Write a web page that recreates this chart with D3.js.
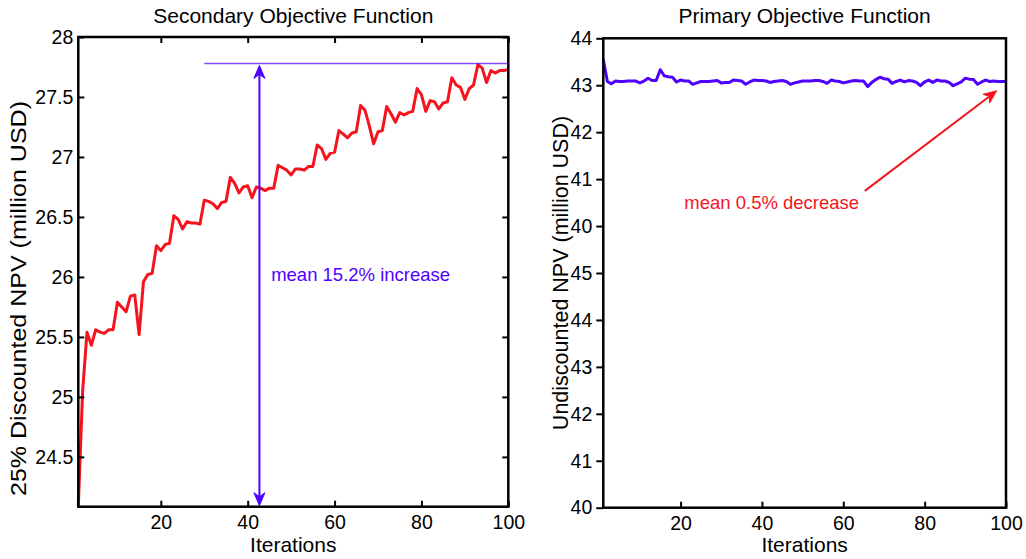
<!DOCTYPE html>
<html>
<head>
<meta charset="utf-8">
<script src="https://cdn.jsdelivr.net/npm/d3@7"></script>
<style>
  html, body { margin: 0; padding: 0; background: #fff; }
  svg { display: block; }
  text { font-family: "Liberation Sans", Arial, sans-serif; fill: #000; }
</style>
</head>
<body>
<svg id="chart" width="1026" height="559"></svg>
<script>
// ---------- DATA ----------
const secondaryNPV = [
  24.09, 25.05, 25.54, 25.43, 25.56, 25.54, 25.53, 25.56, 25.56, 25.79,
  25.75, 25.71, 25.84, 25.85, 25.52, 25.96, 26.02, 26.03, 26.26, 26.22,
  26.27, 26.28, 26.51, 26.48, 26.40, 26.46, 26.45, 26.45, 26.44, 26.64,
  26.63, 26.61, 26.57, 26.62, 26.63, 26.83, 26.78, 26.70, 26.75, 26.76,
  26.66, 26.75, 26.74, 26.72, 26.74, 26.74, 26.93, 26.91, 26.89, 26.85,
  26.90, 26.90, 26.89, 26.92, 26.92, 27.10, 27.07, 26.98, 27.03, 27.04,
  27.22, 27.19, 27.16, 27.20, 27.21, 27.43, 27.39, 27.26, 27.11, 27.21,
  27.22, 27.42, 27.36, 27.29, 27.37, 27.35, 27.37, 27.38, 27.57, 27.52,
  27.38, 27.47, 27.46, 27.40, 27.45, 27.46, 27.66, 27.60, 27.58, 27.48,
  27.57, 27.60, 27.77, 27.74, 27.62, 27.72, 27.70, 27.72, 27.72, 27.73
];
const primaryNPV = [
  43.55, 43.08, 43.03, 43.09, 43.08, 43.08, 43.09, 43.09, 43.09, 43.05,
  43.09, 43.15, 43.10, 43.10, 43.33, 43.20, 43.18, 43.17, 43.07, 43.11,
  43.09, 43.09, 43.02, 43.05, 43.08, 43.08, 43.08, 43.09, 43.10, 43.05,
  43.06, 43.06, 43.11, 43.10, 43.09, 43.02, 43.07, 43.11, 43.10, 43.10,
  43.09, 43.06, 43.08, 43.09, 43.10, 43.08, 43.02, 43.05, 43.07, 43.09,
  43.09, 43.09, 43.10, 43.10, 43.08, 43.04, 43.11, 43.09, 43.08, 43.05,
  43.07, 43.09, 43.10, 43.09, 43.09, 42.97, 43.06, 43.12, 43.17, 43.14,
  43.13, 43.04, 43.08, 43.11, 43.07, 43.10, 43.09, 43.06, 42.99, 43.07,
  43.11, 43.06, 43.11, 43.09, 43.09, 43.06, 42.99, 43.03, 43.07, 43.15,
  43.13, 43.12, 43.02, 43.07, 43.11, 43.08, 43.09, 43.08, 43.08, 43.08
];
const xTickValues = [20, 40, 60, 80, 100];
const leftYTickValues = [24.5, 25, 25.5, 26, 26.5, 27, 27.5, 28];
const rightYTickValues = [34, 35, 36, 37, 38, 39, 40, 41, 42, 43, 44];
const rightYTickLabels = ["40", "41", "42", "43", "44", "45", "40", "41", "42", "43", "44"];
const titles = ["Secondary Objective Function", "Primary Objective Function"];
const yLabels = ["25% Discounted NPV (million USD)", "Undiscounted NPV (million USD)"];
const xLabel = "Iterations";
// annotations (data coordinates)
const leftRefLine = { x0: 30, x1: 100, y: 27.78 };
const leftArrow = { x: 42.7, y0: 27.78, y1: 24.085 };
const leftNote = { x: 45.4, y: 25.97, text: "mean 15.2% increase" };
const rightArrow = { x0: 65.3, y0: 40.75, x1: 97.7, y1: 42.88 };
const rightNote = { x: 63.9, y: 40.36, text: "mean 0.5% decrease" };

// ---------- STYLE ----------
const RED = "#f5141e";
const BLUE = "#5000ff";
const svg = d3.select("#chart");

function arrowHead(g, tipX, tipY, angle, color) {
  const L = 13, W = 5.5, notch = 4;
  const pts = [[0, 0], [-L, -W], [-L + notch, 0], [-L, W]];
  const c = Math.cos(angle), s = Math.sin(angle);
  const p = pts.map(([x, y]) => [tipX + x * c - y * s, tipY + x * s + y * c]);
  g.append("path")
    .attr("d", "M" + p.map(d => d.join(",")).join("L") + "Z")
    .attr("fill", color).attr("stroke", color).attr("stroke-width", 1);
}

function styleAxis(a) {
  a.select(".domain").remove();
  a.selectAll(".tick line").attr("stroke", "#000").attr("stroke-width", 2);
  a.selectAll("text").attr("font-size", 19.5).attr("fill", "#000")
    .attr("font-family", '"Liberation Sans", Arial, sans-serif');
}

// ---------- LEFT PANEL ----------
{
  const x = d3.scaleLinear().domain([1, 100]).range([78.3, 508.3]);
  const y = d3.scaleLinear().domain([24.085, 28]).range([506.7, 37]);
  const g = svg.append("g");

  g.append("path")
    .datum(secondaryNPV)
    .attr("fill", "none").attr("stroke", RED).attr("stroke-width", 3)
    .attr("stroke-linejoin", "round")
    .attr("d", d3.line().x((d, i) => x(i + 1)).y(d => y(d)));

  const bottom = g.append("g").attr("transform", `translate(0,${y.range()[0]})`)
    .call(d3.axisBottom(x).tickValues(xTickValues).tickSize(-6).tickPadding(8).tickFormat(d3.format("d")));
  const top = g.append("g").attr("transform", `translate(0,${y.range()[1]})`)
    .call(d3.axisTop(x).tickValues(xTickValues).tickSize(-6).tickFormat(""));
  const left = g.append("g").attr("transform", `translate(${x.range()[0]},0)`)
    .call(d3.axisLeft(y).tickValues(leftYTickValues).tickSize(-6).tickPadding(5).tickFormat(d => d3.format("")(d)));
  const right = g.append("g").attr("transform", `translate(${x.range()[1]},0)`)
    .call(d3.axisRight(y).tickValues(leftYTickValues).tickSize(-6).tickFormat(""));
  [bottom, top, left, right].forEach(styleAxis);
  g.append("rect")
    .attr("x", x.range()[0]).attr("y", y.range()[1])
    .attr("width", x.range()[1] - x.range()[0]).attr("height", y.range()[0] - y.range()[1])
    .attr("fill", "none").attr("stroke", "#000").attr("stroke-width", 2.5);

  g.append("line")
    .attr("x1", x(leftRefLine.x0)).attr("x2", x(leftRefLine.x1))
    .attr("y1", y(leftRefLine.y)).attr("y2", y(leftRefLine.y))
    .attr("stroke", BLUE).attr("stroke-opacity", 0.7).attr("stroke-width", 1.5);
  g.append("line")
    .attr("x1", x(leftArrow.x)).attr("x2", x(leftArrow.x))
    .attr("y1", y(leftArrow.y0) + 8).attr("y2", y(leftArrow.y1) - 8)
    .attr("stroke", BLUE).attr("stroke-width", 2);
  arrowHead(g, x(leftArrow.x), y(leftArrow.y0) + 2, -Math.PI / 2, BLUE);
  arrowHead(g, x(leftArrow.x), y(leftArrow.y1) - 1, Math.PI / 2, BLUE);
  g.append("text")
    .attr("x", x(leftNote.x)).attr("y", y(leftNote.y))
    .attr("font-size", 18.5).style("fill", BLUE)
    .text(leftNote.text);

  g.append("text")
    .attr("x", (x.range()[0] + x.range()[1]) / 2).attr("y", 23.3)
    .attr("text-anchor", "middle").attr("font-size", 21)
    .text(titles[0]);
  g.append("text")
    .attr("x", (x.range()[0] + x.range()[1]) / 2).attr("y", 551.5)
    .attr("text-anchor", "middle").attr("font-size", 21)
    .text(xLabel);
  g.append("text")
    .attr("transform", `translate(25.5,298.5) rotate(-90)`)
    .attr("text-anchor", "middle").attr("font-size", 21.5)
    .attr("textLength", 395).attr("lengthAdjust", "spacingAndGlyphs")
    .text(yLabels[0]);
}

// ---------- RIGHT PANEL ----------
{
  const x = d3.scaleLinear().domain([1, 100]).range([603.3, 1006]);
  const y = d3.scaleLinear().domain([34, 44]).range([507.7, 38.3]);
  const g = svg.append("g");

  g.append("path")
    .datum(primaryNPV)
    .attr("fill", "none").attr("stroke", BLUE).attr("stroke-width", 3)
    .attr("stroke-linejoin", "round")
    .attr("d", d3.line().x((d, i) => x(i + 1)).y(d => y(d)));

  const bottom = g.append("g").attr("transform", `translate(0,${y.range()[0]})`)
    .call(d3.axisBottom(x).tickValues(xTickValues).tickSize(-6).tickPadding(8).tickFormat(d3.format("d")));
  const left = g.append("g").attr("transform", `translate(${x.range()[0]},0)`)
    .call(d3.axisLeft(y).tickValues(rightYTickValues).tickSize(7).tickPadding(4)
      .tickFormat((d, i) => rightYTickLabels[i]));
  [bottom, left].forEach(styleAxis);
  g.append("rect")
    .attr("x", x.range()[0]).attr("y", y.range()[1])
    .attr("width", x.range()[1] - x.range()[0]).attr("height", y.range()[0] - y.range()[1])
    .attr("fill", "none").attr("stroke", "#000").attr("stroke-width", 2.5);

  const ax0 = x(rightArrow.x0), ay0 = y(rightArrow.y0), ax1 = x(rightArrow.x1), ay1 = y(rightArrow.y1);
  const ang = Math.atan2(ay1 - ay0, ax1 - ax0);
  g.append("line")
    .attr("x1", ax0).attr("y1", ay0)
    .attr("x2", ax1 - 8 * Math.cos(ang)).attr("y2", ay1 - 8 * Math.sin(ang))
    .attr("stroke", RED).attr("stroke-width", 2);
  arrowHead(g, ax1, ay1, ang, RED);
  g.append("text")
    .attr("x", x(rightNote.x)).attr("y", y(rightNote.y))
    .attr("text-anchor", "end").attr("font-size", 18.5).style("fill", RED)
    .text(rightNote.text);

  g.append("text")
    .attr("x", (x.range()[0] + x.range()[1]) / 2).attr("y", 23.3)
    .attr("text-anchor", "middle").attr("font-size", 21)
    .text(titles[1]);
  g.append("text")
    .attr("x", (x.range()[0] + x.range()[1]) / 2).attr("y", 552)
    .attr("text-anchor", "middle").attr("font-size", 21)
    .text(xLabel);
  g.append("text")
    .attr("transform", `translate(568,${(y.range()[0] + y.range()[1]) / 2}) rotate(-90)`)
    .attr("text-anchor", "middle").attr("font-size", 21.5)
    .text(yLabels[1]);
}
</script>
</body>
</html>
